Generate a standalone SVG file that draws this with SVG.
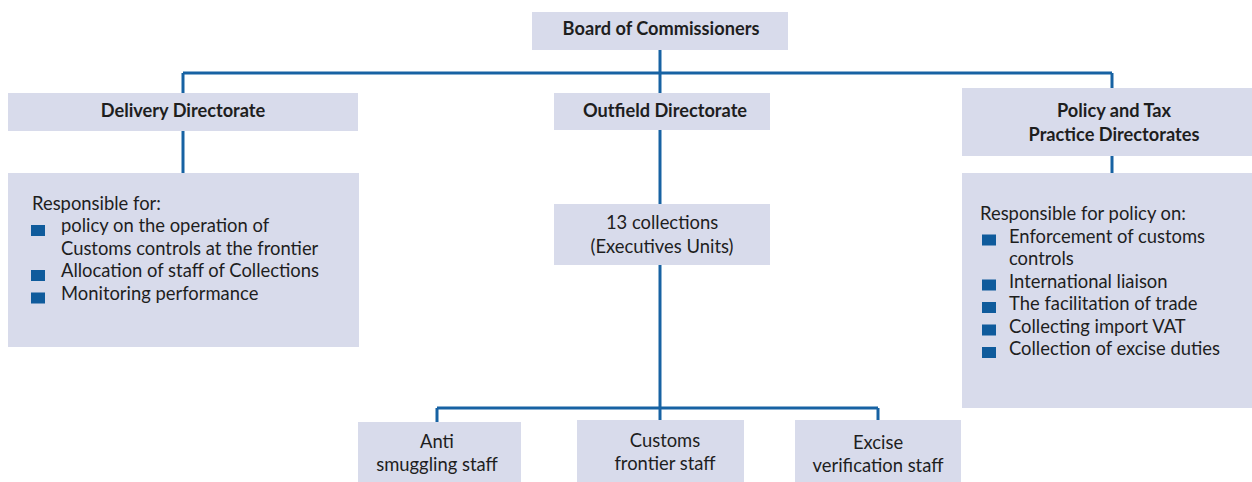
<svg xmlns="http://www.w3.org/2000/svg" width="1252" height="482" viewBox="0 0 1252 482">
  <style>
    .box { fill: #d8dbeb; }
    .t { font-family: Lato, "Liberation Sans", sans-serif; font-size: 18.4px; fill: #1e1e1e; }
    .b { font-weight: bold; font-size: 18.2px; }
    .c { text-anchor: middle; }
    .bul { fill: #0f5b9c; }
    .ln { stroke: #1762a3; stroke-width: 3; fill: none; }
  </style>
  <rect width="1252" height="482" fill="#ffffff"/>

  <!-- connectors -->
  <g id="connectors">
    <path class="ln" d="M183 73 H1112"/>
    <path class="ln" d="M660 50 V93"/>
    <path class="ln" d="M183 73 V93"/>
    <path class="ln" d="M1112 73 V88"/>
    <path class="ln" d="M183 131 V173"/>
    <path class="ln" d="M660 130 V204"/>
    <path class="ln" d="M1112 156 V173"/>
    <path class="ln" d="M660 265 V420"/>
    <path class="ln" d="M437 408 H878"/>
    <path class="ln" d="M437 408 V422"/>
    <path class="ln" d="M878 408 V420"/>
  </g>

  <g id="board">
    <rect class="box" x="532" y="12" width="256" height="38"/>
    <text class="t b c" x="661" y="35">Board of Commissioners</text>
  </g>

  <g id="delivery">
    <rect class="box" x="8" y="93" width="350" height="38"/>
    <text class="t b c" x="183" y="117">Delivery Directorate</text>
  </g>

  <g id="outfield">
    <rect class="box" x="554" y="93" width="216" height="37"/>
    <text class="t b c" x="665" y="117">Outfield Directorate</text>
  </g>

  <g id="policy">
    <rect class="box" x="962" y="88" width="290" height="68"/>
    <text class="t b c" x="1114" y="117">Policy and Tax</text>
    <text class="t b c" x="1114" y="141">Practice Directorates</text>
  </g>

  <g id="delivery-remit">
    <rect class="box" x="8" y="173" width="351" height="174"/>
    <text class="t" x="32" y="209.5">Responsible for:</text>
    <rect class="bul" x="31" y="225" width="14" height="11"/>
    <text class="t" x="61" y="232">policy on the operation of</text>
    <text class="t" x="61" y="254.5">Customs controls at the frontier</text>
    <rect class="bul" x="31" y="270" width="14" height="11"/>
    <text class="t" x="61" y="277">Allocation of staff of Collections</text>
    <rect class="bul" x="31" y="292.5" width="14" height="11"/>
    <text class="t" x="61" y="299.5">Monitoring performance</text>
  </g>

  <g id="collections">
    <rect class="box" x="554" y="204" width="216" height="61"/>
    <text class="t c" x="662" y="229">13 collections</text>
    <text class="t c" x="662" y="253">(Executives Units)</text>
  </g>

  <g id="policy-remit">
    <rect class="box" x="962" y="173" width="290" height="235"/>
    <text class="t" x="980" y="220">Responsible for policy on:</text>
    <rect class="bul" x="982" y="234.5" width="14" height="11"/>
    <text class="t" x="1009" y="242.5">Enforcement of customs</text>
    <text class="t" x="1009" y="265">controls</text>
    <rect class="bul" x="982" y="279.5" width="14" height="11"/>
    <text class="t" x="1009" y="287.5">International liaison</text>
    <rect class="bul" x="982" y="302" width="14" height="11"/>
    <text class="t" x="1009" y="310">The facilitation of trade</text>
    <rect class="bul" x="982" y="324.5" width="14" height="11"/>
    <text class="t" x="1009" y="332.5">Collecting import VAT</text>
    <rect class="bul" x="982" y="347" width="14" height="11"/>
    <text class="t" x="1009" y="355">Collection of excise duties</text>
  </g>

  <g id="anti-smuggling">
    <rect class="box" x="358" y="422" width="163" height="60"/>
    <text class="t c" x="437" y="448">Anti</text>
    <text class="t c" x="437" y="471">smuggling staff</text>
  </g>

  <g id="customs-frontier">
    <rect class="box" x="577" y="420" width="167" height="62"/>
    <text class="t c" x="665" y="447">Customs</text>
    <text class="t c" x="665" y="470">frontier staff</text>
  </g>

  <g id="excise-verification">
    <rect class="box" x="795" y="420" width="166" height="62"/>
    <text class="t c" x="878" y="449">Excise</text>
    <text class="t c" x="878" y="472">verification staff</text>
  </g>
</svg>
